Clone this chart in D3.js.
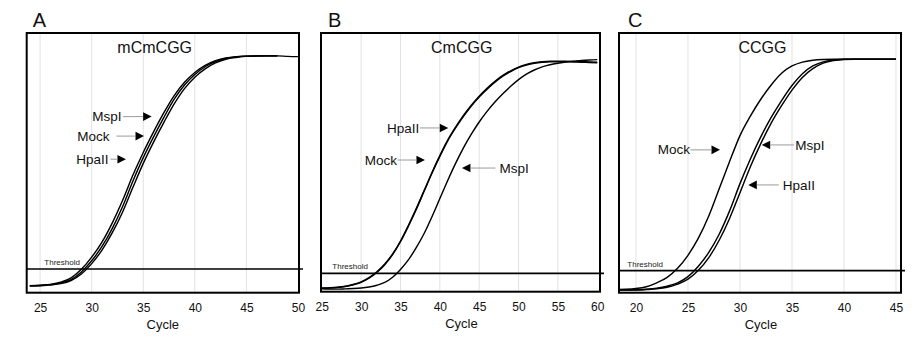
<!DOCTYPE html>
<html><head><meta charset="utf-8">
<script src="https://cdn.jsdelivr.net/npm/d3@7"></script>
<style>body{margin:0;background:#fff}svg{display:block;font-family:"Liberation Sans",Arial,sans-serif}</style>
</head><body><svg id="c" width="917" height="343"></svg>
<script>
// ---------- DATA ----------
const cyclesA = [24,25,26,27,28,29,30,31,32,33,34,35,36,37,38,39,40,41,42,43,44,45,46,47,48,49,50];
const mockA = [2.7,2.8,3.1,3.7,5.0,8.0,12.3,17.8,24.8,33.2,43.0,52.0,60.0,67.5,74.5,80.0,84.0,87.0,89.0,90.2,90.8,91.1,91.2,91.2,91.2,91.0,90.9];
const mspA  = [2.7,2.9,3.2,4.0,5.7,9.0,13.7,19.5,26.9,35.6,45.3,54.0,61.9,69.3,75.9,81.0,84.8,87.5,89.3,90.4,90.9,91.1,91.2,91.2,91.2];
const hpaA  = [2.7,2.7,3.0,3.5,4.7,7.2,11.2,16.4,23.1,31.1,40.6,49.8,58.0,65.6,72.7,78.6,83.0,86.2,88.5,89.9,90.6,91.0,91.1,91.2,91.2];

const cyclesB = [25,26,27,28,29,30,31,32,33,34,35,36,37,38,39,40,41,42,43,44,45,46,47,48,49,50,51,52,53,54,55,56,57,58,59,60];
const mockB = [1.4,1.5,1.7,2.1,2.8,3.8,5.4,7.7,10.7,14.6,19.6,25.6,32.1,39.1,46.1,52.6,58.6,63.6,68.1,72.1,75.6,78.6,81.3,83.6,85.4,86.8,87.8,88.5,88.9,89.1,89.1,89.1,89.0,88.9,88.8,88.7];
const hpaB  = [1.3,1.4,1.6,2.0,2.7,3.6,5.2,7.4,10.4,14.3,19.3,25.3,31.8,38.8,45.8,52.3,58.3,63.3,67.8,71.8,75.3,78.3,81.0,83.3,85.1,86.6,87.6,88.3,88.7,88.9,88.9,88.9,88.8,88.7,88.6,88.5];
const mspB  = [1.1,1.0,1.0,1.1,1.2,1.4,1.8,2.5,3.6,5.6,8.6,12.3,17.0,22.5,29.0,36.0,43.0,49.6,55.6,60.9,65.6,69.7,73.3,76.5,79.4,82.0,84.1,85.7,86.9,87.7,88.3,88.8,89.1,89.4,89.6,89.7];

const cyclesC = [18,19,20,21,22,23,24,25,26,27,28,29,30,31,32,33,34,35,36,37,38,39,40,41,42,43,44,45];
const mockC = [1.2,1.3,1.6,2.3,3.8,5.9,9.4,14.4,21.0,29.5,40.0,50.5,60.5,68.0,74.5,80.0,84.5,87.3,88.8,89.5,89.8,89.9,89.9,89.9,89.9,89.9,89.9,89.9];
const mspC  = [1.0,1.0,1.1,1.3,1.7,2.5,3.8,6.2,10.2,15.5,22.5,31.5,42.0,51.5,60.0,67.5,74.0,79.8,84.3,87.3,88.9,89.6,89.9,89.9,89.9,89.9,89.9,89.9];
const hpaC  = [1.0,1.0,1.0,1.2,1.5,2.1,3.3,5.2,8.6,13.5,20.2,28.6,38.5,48.5,57.4,65.3,72.0,78.0,82.9,86.3,88.4,89.4,89.8,89.9,89.9,89.9,89.9,89.9];

const ticksA = [25,30,35,40,45,50];
const ticksB = [25,30,35,40,45,50,55,60];
const ticksC = [20,25,30,35,40,45];
const thresholdA = 9.1, thresholdB = 7.1, thresholdC = 8.5;
const titles = ["mCmCGG","CmCGG","CCGG"];
const letters = ["A","B","C"];

// ---------- LAYOUT ----------
const svg = d3.select("#c");
const panels = [
  {box:[26.7,299,33,292.7], xd:[23.7,50.1], ticks:ticksA, thr:thresholdA, thrTx:17.6,
   series:[[cyclesA,mspA],[cyclesA,mockA],[cyclesA,hpaA]],
   notes:[{n:"MspI",tip:[35.81,67.8],dir:1,line:20,gap:1.5},
          {n:"Mock",tip:[35.07,60.3],dir:1,line:19,gap:7},
          {n:"HpaII",tip:[33.32,51.4],dir:1,line:7,gap:2}]},
  {box:[321,600,33,291.7], xd:[24.9,60.35], ticks:ticksB, thr:thresholdB, thrTx:11.3,
   series:[[cyclesB,mspB],[cyclesB,mockB],[cyclesB,hpaB]],
   notes:[{n:"HpaII",tip:[41.07,63.3],dir:1,line:20,gap:0.5},
          {n:"Mock",tip:[38.11,50.9],dir:1,line:19,gap:0.5},
          {n:"MspI",tip:[42.81,47.8],dir:-1,line:25,gap:4}]},
  {box:[619,901,33,292.7], xd:[18.37,45.48], ticks:ticksC, thr:thresholdC, thrTx:8.3,
   series:[[cyclesC,mspC],[cyclesC,mockC],[cyclesC,hpaC]],
   notes:[{n:"Mock",tip:[28.08,55.0],dir:1,line:21,gap:0.5},
          {n:"MspI",tip:[32.09,56.9],dir:-1,line:24,gap:1},
          {n:"HpaII",tip:[30.80,41.5],dir:-1,line:22,gap:4}]}
];

panels.forEach((p,i)=>{
  const [x0,x1,y0,y1] = p.box;
  const x = d3.scaleLinear().domain(p.xd).range([x0,x1]);
  const y = d3.scaleLinear().domain([0,100]).range([y1,y0]);
  const g = svg.append("g");
  const clipId = "clip"+i;
  svg.append("defs").append("clipPath").attr("id",clipId)
    .append("rect").attr("x",x0).attr("y",y0).attr("width",x1-x0).attr("height",y1-y0);

  // gridlines
  g.append("g").selectAll("line").data(p.ticks.filter(t=>x(t)>x0+3 && x(t)<x1-3)).join("line")
    .attr("x1",d=>x(d)).attr("x2",d=>x(d)).attr("y1",y0).attr("y2",y1)
    .attr("stroke","#e2e2e2").attr("stroke-width",1);

  // x axis labels (no tick marks)
  const ax = d3.axisBottom(x).tickValues(p.ticks).tickSize(0).tickPadding(11);
  const axg = g.append("g").attr("transform",`translate(0,${y1})`).call(ax);
  axg.select(".domain").remove();
  axg.selectAll("text").attr("font-size",12).attr("fill","#111")
     .attr("font-family","Liberation Sans, Arial, sans-serif");

  g.append("text").attr("x",(x0+x1)/2+ (i==0?0:1)).attr("y",y1+36).attr("text-anchor","middle")
    .attr("font-size",13).attr("fill","#111").text("Cycle");

  // threshold
  g.append("line").attr("x1",x0).attr("x2",x1+4).attr("y1",y(p.thr)).attr("y2",y(p.thr))
    .attr("stroke","#000").attr("stroke-width",1.6);
  g.append("text").attr("x",x0+p.thrTx).attr("y",y(p.thr)-4).attr("font-size",8)
    .attr("fill","#222").text("Threshold");

  // curves
  const line = d3.line().x(d=>x(d[0])).y(d=>y(d[1])).curve(d3.curveMonotoneX);
  const cg = g.append("g").attr("clip-path",`url(#${clipId})`);
  p.series.forEach(([cs,vs])=>{
    cg.append("path").datum(vs.map((v,k)=>[cs[k],v])).attr("d",line)
      .attr("fill","none").attr("stroke","#000").attr("stroke-width",1.45);
  });

  // box
  g.append("rect").attr("x",x0).attr("y",y0).attr("width",x1-x0).attr("height",y1-y0)
    .attr("fill","none").attr("stroke","#000").attr("stroke-width",2);

  // titles
  g.append("text").attr("x",x0+ (i==0?6:(i==1?7:9))).attr("y",27).attr("font-size",20)
    .attr("fill","#111").text(letters[i]);
  const tx = [154.7,461.7,762.5][i];
  g.append("text").attr("x",tx).attr("y",52.5).attr("text-anchor","middle")
    .attr("font-size",16).attr("fill","#111").text(titles[i]);

  // annotations
  p.notes.forEach(nt=>{
    const tx0 = x(nt.tip[0]), ty0 = y(nt.tip[1]);
    const d = nt.dir; // 1: arrow points right, text on left
    const head = 8.5;
    const hb = tx0 - d*head;
    g.append("path").attr("d",`M${tx0},${ty0}L${hb},${ty0-4.3}L${hb},${ty0+4.3}Z`).attr("fill","#000");
    const le = hb - d*nt.line;
    g.append("line").attr("x1",hb).attr("x2",le).attr("y1",ty0).attr("y2",ty0)
      .attr("stroke","#9a9a9a").attr("stroke-width",1);
    g.append("text").attr("x",le - d*nt.gap).attr("y",ty0+4.6)
      .attr("text-anchor",d===1?"end":"start").attr("font-size",13.5).attr("fill","#111").text(nt.n);
  });
});
</script></body></html>
